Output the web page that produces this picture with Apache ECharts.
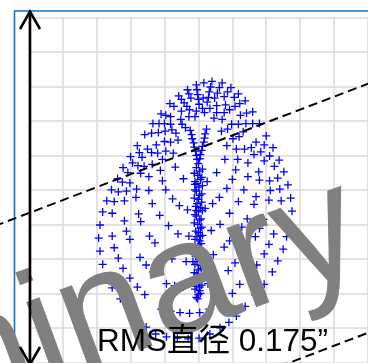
<!DOCTYPE html>
<html><head><meta charset="utf-8">
<script src="https://cdn.jsdelivr.net/npm/echarts@6/dist/echarts.min.js"></script>
<style>html,body{margin:0;padding:0;background:#fff}#c{width:368px;height:363px}</style>
</head><body><div id="c"></div>
<script>
// Spot diagram; positions in milliarcseconds, grid step 50 mas
const ring1 = [[20,157],[35,155],[48,148],[59,139],[69,129],[80,113],[90,96],[100,78],[110,61],[119,43],[126,26],[132,7],[136,-12],[138,-31],[135,-50],[130,-68],[125,-86],[117,-103],[109,-119],[97,-137],[84,-153],[69,-169],[56,-183],[45,-192],[32,-200],[17,-209],[1,-215],[-15,-216],[-31,-215],[-47,-213],[-63,-209],[-77,-199],[-90,-186],[-103,-173],[-115,-158],[-127,-142],[-135,-125],[-141,-108],[-145,-89],[-147,-70],[-145,-51],[-141,-32],[-135,-16],[-128,0],[-119,16],[-111,32],[-100,48],[-90,64],[-79,80],[-67,96],[-55,110],[-42,125],[-29,136],[-16,145],[-3,152],[8,155]];
const ring2 = [[18,149],[31,148],[43,142],[53,134],[61,125],[71,111],[80,96],[97,65],[105,49],[112,34],[117,17],[120,1],[122,-16],[119,-33],[111,-64],[104,-79],[97,-93],[86,-109],[75,-123],[61,-137],[50,-150],[29,-165],[16,-173],[2,-178],[-13,-179],[-27,-178],[-41,-176],[-55,-173],[-79,-152],[-90,-141],[-101,-128],[-111,-114],[-118,-99],[-124,-84],[-127,-67],[-127,-34],[-124,-17],[-118,-3],[-112,11],[-104,25],[-97,39],[-87,54],[-69,82],[-58,96],[-48,108],[-36,121],[-25,131],[-14,139],[-2,145]];
const ring3 = [[16,142],[28,140],[38,135],[54,121],[62,108],[70,96],[85,69],[92,55],[97,42],[105,13],[106,-1],[104,-15],[96,-43],[90,-56],[84,-68],[65,-94],[54,-106],[44,-117],[26,-129],[14,-136],[2,-141],[-22,-141],[-35,-139],[-47,-136],[-67,-119],[-77,-109],[-86,-98],[-101,-72],[-106,-60],[-109,-45],[-109,-16],[-106,-2],[-101,10],[-89,35],[-83,47],[-75,59],[-59,83],[-50,96],[-41,106],[-21,126],[-11,133],[-1,138]];
const ring4 = [[15,134],[24,133],[40,123],[46,116],[59,95],[66,84],[78,61],[82,51],[89,26],[90,14],[85,-10],[82,-21],[72,-42],[64,-54],[46,-74],[38,-83],[22,-94],[13,-100],[-8,-104],[-18,-104],[-39,-100],[-48,-94],[-64,-77],[-72,-67],[-85,-46],[-88,-35],[-92,-11],[-91,1],[-85,24],[-80,34],[-69,54],[-62,65],[-49,85],[-41,95],[-25,114],[-17,121],[0,131],[7,133]];
const ring5 = [[13,127],[27,122],[38,112],[49,95],[60,77],[68,59],[73,39],[73,19],[67,0],[59,-17],[46,-34],[32,-50],[19,-59],[3,-67],[-14,-67],[-30,-64],[-44,-52],[-57,-37],[-68,-20],[-73,-1],[-73,19],[-68,37],[-60,53],[-50,70],[-39,87],[-26,102],[-13,116],[1,124]];
const ring6 = [[17,118],[27,112],[35,102],[43,88],[51,74],[56,59],[58,44],[55,29],[50,15],[42,2],[31,-11],[21,-20],[10,-27],[-3,-30],[-16,-29],[-28,-23],[-38,-13],[-48,0],[-53,13],[-56,28],[-53,44],[-48,56],[-41,69],[-33,82],[-24,95],[-14,106],[-3,114],[6,118]];
const ring7 = [[9,112],[23,104],[34,85],[42,64],[39,44],[27,25],[13,12],[-5,8],[-22,16],[-34,33],[-37,53],[-30,72],[-19,90],[-5,106]];
const stem = [[-12,86],[12,88],[-10,80],[10,81],[-9,74],[9,75],[-7,68],[8,69],[-6,62],[6,63],[-4,56],[5,57],[-3,50],[3,51],[-2,44],[2,45],[0,38],[-3,32],[2,27],[-1,21],[3,15],[-2,9],[1,4],[-3,-2],[2,-8],[0,-14],[-2,-20],[3,-26],[0,-32],[-3,-38],[2,-44],[-1,-50],[3,-56],[0,-62],[-2,-68],[2,-74],[0,-80],[-3,-86],[2,-92],[0,-98],[-2,-104],[3,-110],[0,-116],[-2,-122],[2,-128],[0,-134],[-3,-140],[2,-146],[0,-152],[-1,-158]];
const stemEdge = [[6,30],[-6,24],[5,18],[-5,12],[6,6],[-5,0],[5,-6],[-6,-12],[5,-18],[-4,-24],[6,-30],[-5,-36],[4,-42],[-6,-48],[5,-54],[-4,-60],[6,-66],[-5,-72],[4,-78],[-6,-84],[5,-90],[-4,-96],[6,-102],[-5,-108],[4,-114],[-6,-120],[5,-126],[-4,-132],[5,-138],[-5,-144],[3,-150],[-3,-156]];

// two parallel dashed guide lines: [x1, y1, x2, y2]
const guideUpper = [-300, -52.5, 260, 157.5];
const guideLower = [100, -263.5, 260, -203.5];

const rmsLabel = 'RMS直径 0.175”';
const watermark = 'Preliminary';
const axisMin = -250, axisMax = 250, step = 50;

const plus = 'path://M0,4.2L10,4.2L10,5.8L0,5.8Z M4.2,0L5.8,0L5.8,10L4.2,10Z';
const chart = echarts.init(document.getElementById('c'), null, {renderer: 'canvas'});

const gridLine = {show: true, lineStyle: {color: '#d9d9d9', width: 1.5}};
const hiddenAxis = {
  type: 'value', min: axisMin, max: axisMax, interval: step,
  axisLine: {show: false}, axisTick: {show: false}, axisLabel: {show: false},
  splitLine: gridLine
};

chart.setOption({
  animation: false,
  backgroundColor: '#ffffff',
  grid: {left: 28.75, top: 17.3, width: 345.5, height: 345},
  xAxis: hiddenAxis,
  yAxis: hiddenAxis,
  series: [
    {
      type: 'scatter', z: 2,
      symbol: plus, symbolSize: 8,
      itemStyle: {color: '#0000ff', opacity: 1},
      data: [].concat(ring1, ring2, ring3, ring4, ring5, ring6, ring7, stem, stemEdge)
    },
    {
      type: 'custom', z: 10, clip: false, silent: true,
      encode: {x: [0, 2], y: [1, 3]},
      data: [guideUpper, guideLower],
      renderItem: function (params, api) {
        const a = api.coord([api.value(0), api.value(1)]);
        const b = api.coord([api.value(2), api.value(3)]);
        return {
          type: 'line',
          shape: {x1: a[0], y1: a[1], x2: b[0], y2: b[1]},
          style: {stroke: '#000', lineWidth: 2, lineDash: [9, 5], fill: null}
        };
      }
    }
  ],
  graphic: [
    {type: 'rect', z: 1, silent: true,
     shape: {x: 14.5, y: 11, width: 420, height: 420},
     style: {fill: 'none', stroke: '#0a72c9', lineWidth: 1.6}},
    {type: 'text', z: 50, silent: true, x: -395, y: 501, rotation: 20.3 * Math.PI / 180,
     style: {text: watermark, fill: '#808080', font: '160px "Liberation Sans", Arial, sans-serif',
             align: 'left', verticalAlign: 'middle'}},
    {type: 'polyline', z: 60, silent: true,
     shape: {points: [[30, 11], [30, 366]]},
     style: {stroke: '#000', lineWidth: 2.6, fill: null}},
    {type: 'polyline', z: 60, silent: true,
     shape: {points: [[20, 29], [30, 11.5], [40, 29]]},
     style: {stroke: '#000', lineWidth: 2.6, fill: null}},
    {type: 'polyline', z: 60, silent: true,
     shape: {points: [[20, 347], [30, 364.5], [40, 347]]},
     style: {stroke: '#000', lineWidth: 2.6, fill: null}},
    {type: 'text', z: 60, silent: true, x: 97, y: 342,
     style: {text: rmsLabel, fill: '#000',
             font: '31.5px "Liberation Sans", "Noto Sans CJK SC", sans-serif',
             align: 'left', verticalAlign: 'middle'}}
  ]
});
</script></body></html>
